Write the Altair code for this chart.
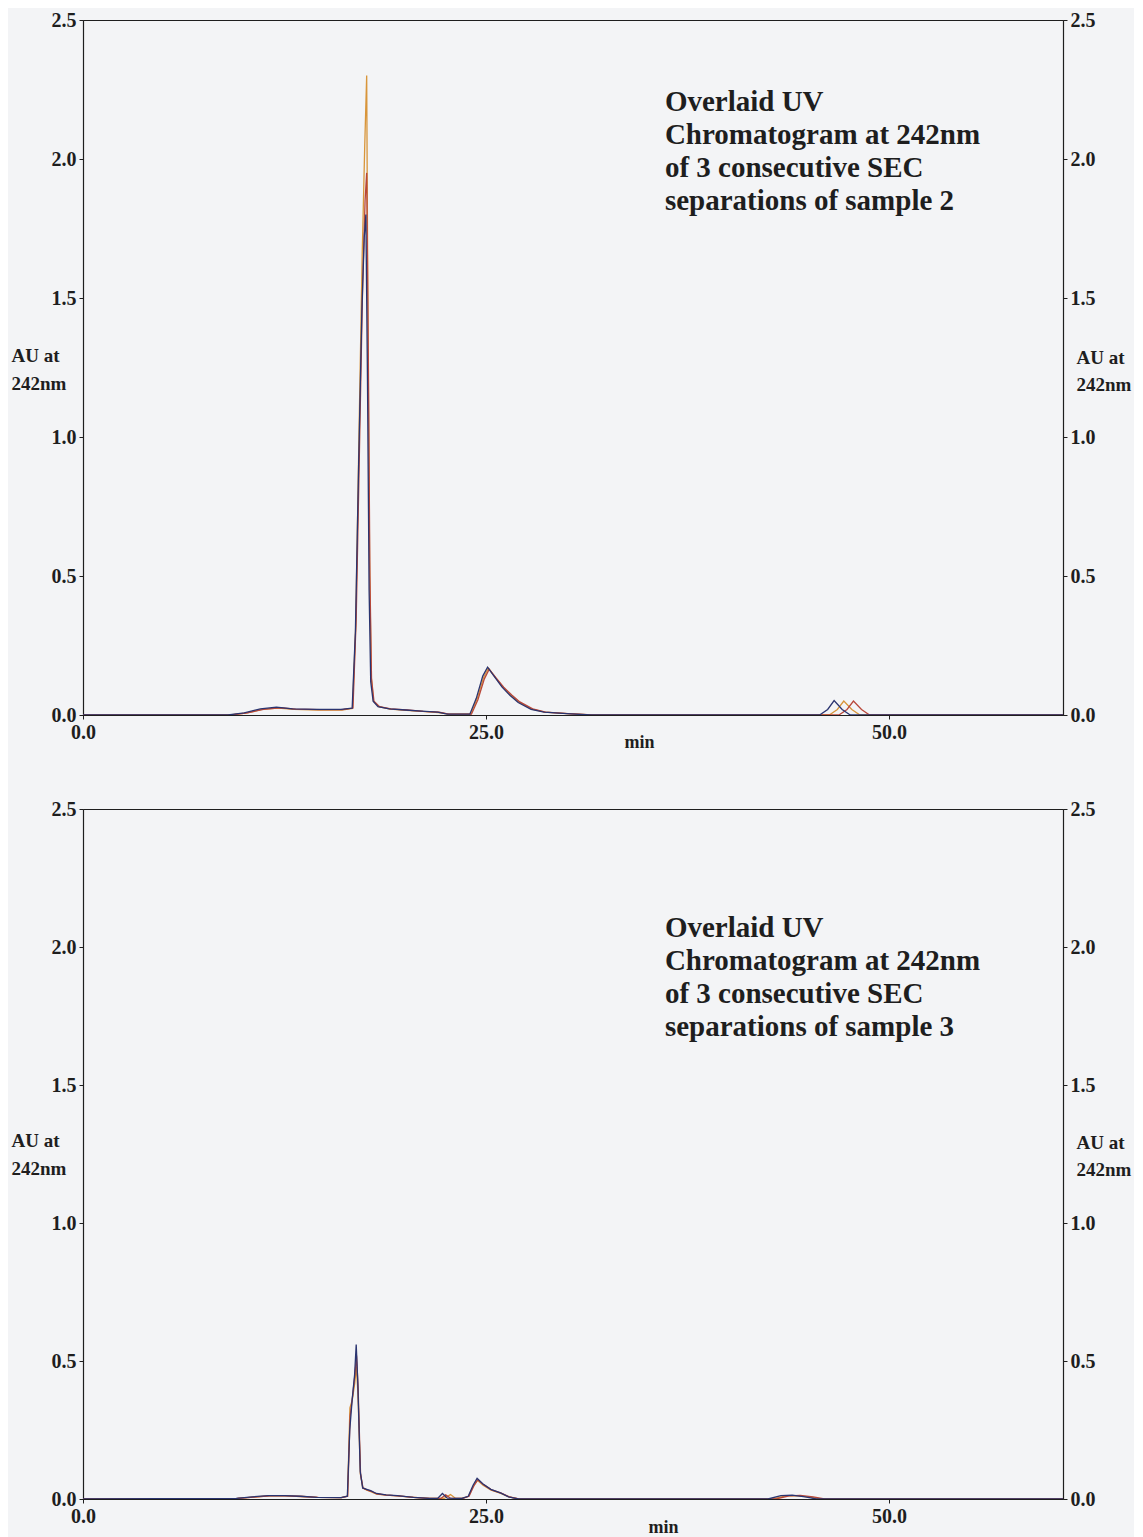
import altair as alt
import pandas as pd

# ---------------- data ----------------
# Panel 1: sample 2  (A = navy run, B = red run, C = orange run)
p1_tA = [0, 9.0, 10.0, 11.0, 12.0, 13.0, 14.5, 16.0, 16.7, 16.9, 17.1, 17.3, 17.45, 17.55, 17.65, 17.75, 17.85, 18.0, 18.3, 19.0, 20.0, 21.0, 22.0, 22.6, 24.0, 24.4, 24.8, 25.1, 25.5, 26.0, 26.5, 27.0, 27.8, 28.6, 30.0, 31.5, 45.7, 46.2, 46.6, 47.1, 47.6, 60.8]
p1_yA = [0, 0, 0.008, 0.022, 0.028, 0.022, 0.02, 0.02, 0.025, 0.3, 0.9, 1.45, 1.72, 1.80, 1.2, 0.45, 0.12, 0.05, 0.03, 0.022, 0.018, 0.014, 0.01, 0.003, 0.003, 0.06, 0.14, 0.172, 0.14, 0.1, 0.07, 0.045, 0.02, 0.01, 0.005, 0, 0, 0.02, 0.052, 0.02, 0, 0]

p1_tB = [0, 9.2, 10.2, 11.2, 12.2, 13.2, 14.7, 16.1, 16.75, 16.95, 17.15, 17.35, 17.5, 17.6, 17.7, 17.8, 17.9, 18.05, 18.4, 19.1, 20.1, 21.1, 22.1, 22.7, 24.1, 24.5, 24.9, 25.2, 25.6, 26.1, 26.6, 27.1, 27.9, 28.7, 30.1, 31.6, 46.9, 47.4, 47.8, 48.3, 48.8, 60.8]
p1_yB = [0, 0, 0.008, 0.02, 0.026, 0.021, 0.019, 0.019, 0.025, 0.35, 0.95, 1.55, 1.85, 1.95, 1.3, 0.5, 0.13, 0.05, 0.03, 0.022, 0.018, 0.013, 0.01, 0.003, 0.003, 0.055, 0.13, 0.165, 0.135, 0.1, 0.072, 0.047, 0.022, 0.01, 0.005, 0, 0, 0.02, 0.05, 0.02, 0, 0]

p1_tC = [0, 9.1, 10.1, 11.1, 12.1, 13.1, 14.6, 16.05, 16.72, 16.92, 17.12, 17.32, 17.48, 17.6, 17.68, 17.78, 17.88, 18.02, 18.35, 19.05, 20.05, 21.05, 22.05, 22.65, 24.05, 24.45, 24.85, 25.15, 25.55, 26.05, 26.55, 27.05, 27.85, 28.65, 30.05, 31.55, 46.3, 46.8, 47.2, 47.7, 48.2, 60.8]
p1_yC = [0, 0, 0.007, 0.02, 0.025, 0.02, 0.018, 0.018, 0.024, 0.32, 1.0, 1.65, 2.05, 2.30, 1.4, 0.55, 0.14, 0.05, 0.03, 0.021, 0.017, 0.013, 0.009, 0.003, 0.003, 0.058, 0.135, 0.168, 0.138, 0.1, 0.07, 0.046, 0.021, 0.01, 0.005, 0, 0, 0.02, 0.05, 0.02, 0, 0]

# Panel 2: sample 3
p2_tA = [0, 9.5, 10.5, 11.5, 12.5, 13.5, 14.5, 16.0, 16.4, 16.55, 16.7, 16.85, 16.95, 17.05, 17.2, 17.35, 17.6, 17.85, 18.2, 18.8, 19.5, 20.5, 21.5, 22.0, 22.3, 22.6, 23.5, 23.9, 24.2, 24.45, 24.8, 25.3, 25.9, 26.4, 27.0, 42.5, 43.3, 44.0, 44.8, 45.5, 60.8]
p2_yA = [0, 0.002, 0.008, 0.012, 0.012, 0.01, 0.006, 0.005, 0.01, 0.25, 0.36, 0.45, 0.56, 0.42, 0.1, 0.04, 0.035, 0.03, 0.02, 0.015, 0.012, 0.006, 0.002, 0.002, 0.02, 0.003, 0.002, 0.01, 0.05, 0.075, 0.055, 0.035, 0.022, 0.008, 0, 0, 0.012, 0.014, 0.008, 0, 0]

p2_tB = [0, 9.6, 10.6, 11.6, 12.6, 13.6, 14.6, 16.05, 16.42, 16.57, 16.72, 16.87, 16.97, 17.07, 17.22, 17.37, 17.62, 17.87, 18.22, 18.82, 19.52, 20.52, 21.52, 22.2, 22.5, 22.8, 23.55, 23.95, 24.25, 24.5, 24.85, 25.35, 25.95, 26.45, 27.05, 43.0, 43.8, 44.5, 45.3, 46.0, 60.8]
p2_yB = [0, 0.002, 0.007, 0.011, 0.011, 0.009, 0.006, 0.005, 0.01, 0.3, 0.37, 0.45, 0.52, 0.4, 0.09, 0.04, 0.033, 0.028, 0.019, 0.014, 0.011, 0.006, 0.002, 0.002, 0.015, 0.003, 0.002, 0.01, 0.048, 0.07, 0.052, 0.033, 0.021, 0.008, 0, 0, 0.011, 0.013, 0.008, 0, 0]

p2_tC = [0, 9.55, 10.55, 11.55, 12.55, 13.55, 14.55, 16.02, 16.41, 16.56, 16.71, 16.86, 16.96, 17.06, 17.21, 17.36, 17.61, 17.86, 18.21, 18.81, 19.51, 20.51, 21.51, 22.4, 22.8, 23.1, 23.52, 23.92, 24.22, 24.47, 24.82, 25.32, 25.92, 26.42, 27.02, 42.8, 43.6, 44.3, 45.1, 45.8, 60.8]
p2_yC = [0, 0.002, 0.007, 0.011, 0.011, 0.009, 0.006, 0.005, 0.01, 0.33, 0.36, 0.42, 0.48, 0.38, 0.09, 0.04, 0.032, 0.027, 0.018, 0.014, 0.011, 0.006, 0.002, 0.002, 0.016, 0.003, 0.002, 0.01, 0.046, 0.068, 0.05, 0.032, 0.02, 0.008, 0, 0, 0.011, 0.012, 0.007, 0, 0]

color_A = "#2a3470"  # navy
color_B = "#b8473a"  # red
color_C = "#d8953a"  # orange

title1 = "Overlaid UV\nChromatogram at 242nm\nof 3 consecutive SEC\nseparations of sample 2"
title2 = "Overlaid UV\nChromatogram at 242nm\nof 3 consecutive SEC\nseparations of sample 3"

y_ticks = [0.0, 0.5, 1.0, 1.5, 2.0, 2.5]
x_ticks = [0.0, 25.0, 50.0]
y_title = ["AU at", "242nm"]

FONT = "Liberation Serif"
W = 980
XMAX = 60.8
TXT = "#1e1e1e"


def panel(traces, title, title_x, title_y, min_x, min_y, h, ytitle_y):
    xscale = alt.Scale(domain=[0, XMAX], nice=False, zero=False)
    xaxis = alt.Axis(values=x_ticks, format=".1f", title="min", titleX=min_x, titleY=min_y,
                     titleAlign="center", titleBaseline="middle", grid=False, labelFlush=False,
                     tickSize=4, labelPadding=3, titleFontSize=18)
    xenc = alt.X("t:Q", scale=xscale, axis=xaxis)
    yscale = alt.Scale(domain=[0, 2.5], nice=False)
    y_left = alt.Y("au:Q", scale=yscale,
                   axis=alt.Axis(values=y_ticks, format=".1f", title=y_title, titleAngle=0,
                                 titleAlign="left", titleBaseline="top", titleX=-72, titleY=ytitle_y,
                                 titleLineHeight=28, grid=False, tickSize=4, labelPadding=3,
                                 labelFlush=False))
    y_right = alt.Y("au:Q", scale=yscale,
                    axis=alt.Axis(orient="right", values=y_ticks, format=".1f", title=y_title, titleAngle=0,
                                  titleAlign="left", titleBaseline="top", titleX=13, titleY=ytitle_y + 2,
                                  titleLineHeight=27, grid=False, tickSize=4, labelPadding=3,
                                  labelFlush=False))
    y_none = alt.Y("au:Q", scale=yscale, axis=None)
    layers = []
    for i, (ts, ys, col) in enumerate(traces):
        df = pd.DataFrame({"t": ts, "au": ys})
        yenc = [y_left, y_right, y_none][i]
        layers.append(alt.Chart(df).mark_line(color=col, strokeWidth=1.3, clip=True).encode(x=xenc, y=yenc))
    tdf = pd.DataFrame({"t": [title_x], "au": [title_y], "label": [title]})
    text = alt.Chart(tdf).mark_text(align="left", baseline="top", font=FONT, fontWeight="bold",
                                    fontSize=29, lineHeight=33, lineBreak="\n", color=TXT).encode(
        x=xenc, y=y_none, text="label:N")
    layers.append(text)
    return alt.layer(*layers).resolve_axis(y="independent").properties(width=W, height=h)


top = panel([(p1_tC, p1_yC, color_C), (p1_tB, p1_yB, color_B), (p1_tA, p1_yA, color_A)],
            title1, 36.1, 2.255, 556, 27, 695, 326)
bottom = panel([(p2_tC, p2_yC, color_C), (p2_tB, p2_yB, color_B), (p2_tA, p2_yA, color_A)],
               title2, 36.1, 2.12, 580, 28, 690, 322)

chart = alt.vconcat(top, bottom, spacing=46).properties(
    background="#f3f4f6", padding={"left": 2, "top": 1, "right": 2, "bottom": 0}
).configure_view(stroke=TXT, strokeWidth=1).configure_axis(
    labelFont=FONT, labelFontWeight="bold", labelFontSize=20, labelColor=TXT,
    titleFont=FONT, titleFontWeight="bold", titleFontSize=19, titleColor=TXT,
    domainColor=TXT, tickColor=TXT, domainWidth=1.2
)

chart.save("out.html", embed_options={"renderer": "svg", "actions": False})
